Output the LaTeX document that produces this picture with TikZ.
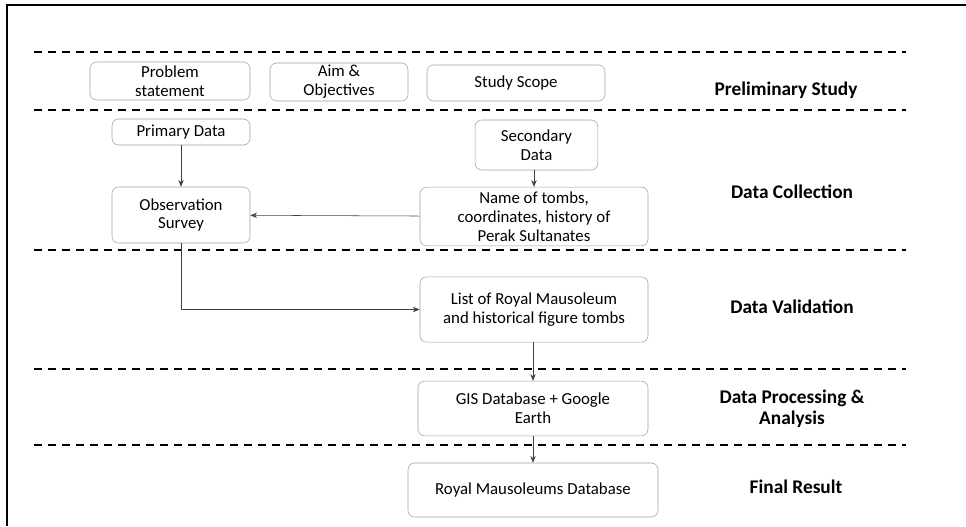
\documentclass[tikz,border=0pt]{standalone}
\usepackage{fontspec}
\setmainfont{Carlito}
\usetikzlibrary{arrows.meta, positioning}
\tikzset{
  box/.style={draw=gray!75, rounded corners=5pt, align=center, inner sep=1pt,
    font=\fontsize{12.6}{14.2}\selectfont},
  phase/.style={align=center, font=\fontsize{14.5}{15.5}\selectfont\bfseries},
  link/.style={draw=black!75, -{Stealth[length=1.8mm, width=1.4mm]}},
  sep/.style={dash pattern=on 6pt off 4.5pt, line width=0.9pt},
}

\begin{document}
\begin{tikzpicture}[x=0.75pt, y=-0.75pt]

  \useasboundingbox (0,0) rectangle (966,526);

  % frame
  \draw[line width=2pt] (7,526) -- (7,5) -- (966,5);

  % stage separators
  \foreach \yy in {52,110,250,369,445}
    \draw[sep] (34,\yy) -- (906,\yy);

  % preliminary study
  \node[box, minimum width=120pt, minimum height=28.5pt] (prob)  at (170,81)  {Problem\\statement};
  \node[box, minimum width=103.5pt, minimum height=28.5pt] (aim)  at (339,82)  {Aim \&\\Objectives};
  \node[box, minimum width=133.5pt, minimum height=27pt] (scope) at (516,83)  {Study Scope};

  % data collection
  \node[box, minimum width=103.5pt, minimum height=19.5pt] (prim) at (181,132)   {Primary Data};
  \node[box, minimum width=92pt, minimum height=37.5pt]    (sec)  at (536.5,145) {Secondary\\Data};
  \node[box, minimum width=103.5pt, minimum height=42pt]   (obs)  at (181,215)   {Observation\\Survey};
  \node[box, minimum width=171pt, minimum height=44pt]     (name) at (534,216.5) {Name of tombs,\\coordinates, history of\\Perak Sultanates};

  % data validation
  \node[box, minimum width=171pt, minimum height=49pt] (list) at (534,309.5) {List of Royal Mausoleum\\and historical figure tombs};

  % processing and result
  \node[box, minimum width=172.5pt, minimum height=41pt] (gis)   at (533,408.5) {GIS Database + Google\\Earth};
  \node[box, minimum width=187.5pt, minimum height=40.5pt] (final) at (533,490)  {Royal Mausoleums Database};

  % connectors
  \draw[link] (prim) -- (obs);
  \draw[link] (sec.south -| name.north) -- (name.north);
  \draw[link] (name) -- (obs);
  \draw[link] (obs.south) |- (list.west);
  \draw[link] (list.south -| gis.north) -- (gis.north);
  \draw[link] (gis) -- (final);

  % stage names
  \node[phase] (pre)  at (786,90)  {Preliminary Study};
  \node[phase] (col)  at (792,192) {Data Collection};
  \node[phase] (val)  at (792,307) {Data Validation};
  \node[phase] (proc) at (792,409) {Data Processing \&\\Analysis};
  \node[phase] (res)  at (796,487) {Final Result};

\end{tikzpicture}
\end{document}
